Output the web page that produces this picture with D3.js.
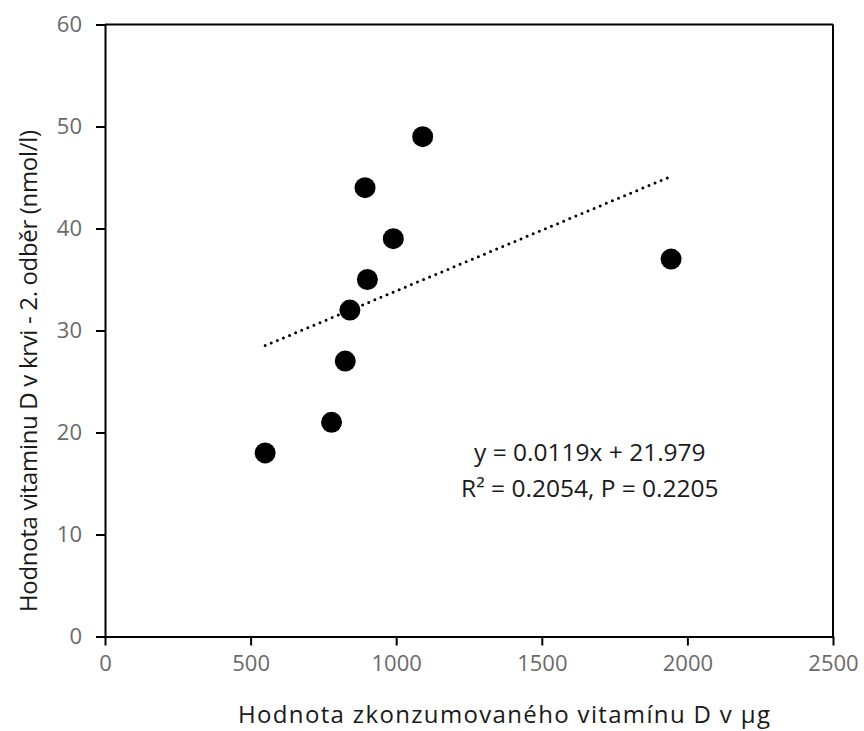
<!DOCTYPE html>
<html>
<head>
<meta charset="utf-8">
<script src="https://cdn.jsdelivr.net/npm/d3@7"></script>
<style>
  body { margin: 0; background: #fff; }
  text { font-family: "Open Sans", "Noto Sans", sans-serif; }
</style>
</head>
<body>
<svg id="chart" width="864" height="731"></svg>
<script>
// intake of vitamin D (µg) vs. blood level, 2nd sampling (nmol/l)
const intake = [550, 778, 825, 841, 901, 990, 893, 1091, 1944];
const blood = [18, 21, 27, 32, 35, 39, 44, 49, 37];
const xTicks = [0, 500, 1000, 1500, 2000, 2500];
const yTicks = [0, 10, 20, 30, 40, 50, 60];
const slope = 0.0119;
const intercept = 21.979;
const equationLines = ['y = 0.0119x + 21.979', 'R² = 0.2054, P = 0.2205'];

const svg = d3.select('#chart');
const margin = { top: 24.5, right: 31, bottom: 94.5, left: 105 };
const width = 864 - margin.left - margin.right;
const height = 731 - margin.top - margin.bottom;

const x = d3.scaleLinear().domain([0, 2500]).range([0, width]);
const y = d3.scaleLinear().domain([0, 60]).range([height, 0]);

const g = svg.append('g')
  .attr('transform', `translate(${margin.left},${margin.top})`);

// frame on top and right
g.append('line')
  .attr('x1', 0).attr('x2', width).attr('y1', 0).attr('y2', 0)
  .attr('stroke', '#000').attr('stroke-width', 2);
g.append('line')
  .attr('x1', width).attr('x2', width).attr('y1', 0).attr('y2', height)
  .attr('stroke', '#000').attr('stroke-width', 2);

const xAxis = g.append('g')
  .attr('transform', `translate(0,${height})`)
  .call(d3.axisBottom(x).tickValues(xTicks).tickFormat(d3.format('d'))
    .tickSize(9).tickSizeOuter(0).tickPadding(10));

const yAxis = g.append('g')
  .call(d3.axisLeft(y).tickValues(yTicks).tickFormat(d3.format('d'))
    .tickSize(9).tickSizeOuter(0).tickPadding(14));

[xAxis, yAxis].forEach(ax => {
  ax.select('.domain').attr('stroke', '#000').attr('stroke-width', 2);
  ax.selectAll('.tick line').attr('stroke', '#000').attr('stroke-width', 2);
  ax.selectAll('.tick text')
    .attr('fill', '#6a6a6a')
    .style('font-size', '22px');
});

// trend line over the range of the data
const [x0, x1] = d3.extent(intake);
g.append('line')
  .attr('x1', x(x0)).attr('y1', y(slope * x0 + intercept))
  .attr('x2', x(x1)).attr('y2', y(slope * x1 + intercept))
  .attr('stroke', '#000')
  .attr('stroke-width', 3)
  .attr('stroke-linecap', 'round')
  .attr('stroke-dasharray', '0,6.6');

g.selectAll('.dot')
  .data(intake.map((v, i) => ({ x: v, y: blood[i] })))
  .enter()
  .append('circle')
  .attr('class', 'dot')
  .attr('cx', d => x(d.x))
  .attr('cy', d => y(d.y))
  .attr('r', 10.5)
  .attr('fill', '#000');

g.selectAll('.eq')
  .data(equationLines)
  .enter()
  .append('text')
  .attr('class', 'eq')
  .attr('x', x(1665))
  .attr('y', (d, i) => y(17.2) + i * 36)
  .attr('text-anchor', 'middle')
  .attr('fill', '#1a1a1a')
  .style('font-size', '24.5px')
  .text(d => d);

svg.append('text')
  .attr('x', 504)
  .attr('y', 723)
  .attr('text-anchor', 'middle')
  .attr('fill', '#1a1a1a')
  .style('font-size', '24px')
  .attr('textLength', 532)
  .text('Hodnota zkonzumovaného vitamínu D v µg');

svg.append('text')
  .attr('transform', `translate(37,371) rotate(-90)`)
  .attr('text-anchor', 'middle')
  .attr('fill', '#1a1a1a')
  .style('font-size', '24px')
  .attr('textLength', 482)
  .text('Hodnota vitaminu D v krvi - 2. odběr (nmol/l)');
</script>
</body>
</html>
